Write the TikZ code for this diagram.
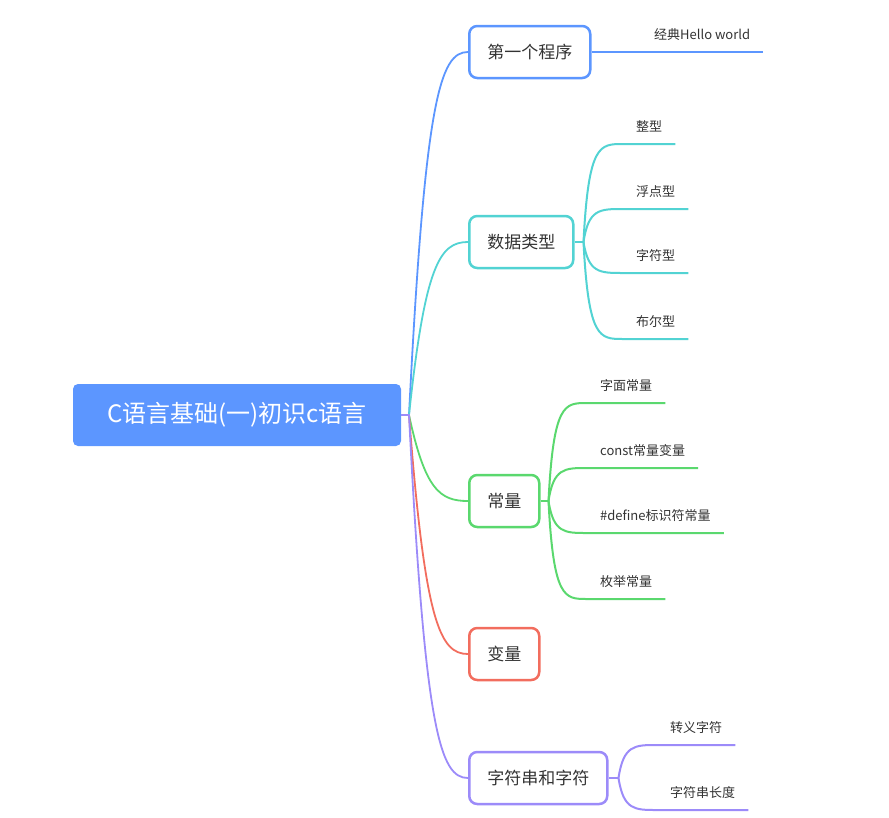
\documentclass[tikz,border=0pt]{standalone}
\usepackage{fontspec}
\setmainfont{Noto Sans CJK SC}
\usepackage{tikz}
\usetikzlibrary{calc}
\definecolor{mmblue}{HTML}{5C96FF}
\definecolor{mmteal}{HTML}{52D3D3}
\definecolor{mmgreen}{HTML}{5AD86E}
\definecolor{mmred}{HTML}{F26D5E}
\definecolor{mmpurple}{HTML}{9C8BF9}
\definecolor{mmtext}{HTML}{333333}

\begin{document}
\begin{tikzpicture}[x=1pt, y=-1pt,
  topic/.style={rectangle, draw=#1, line width=2.5pt, rounded corners=8pt,
    fill=white, minimum height=52pt, inner xsep=18pt, anchor=west,
    text=mmtext, font=\fontsize{17}{20}\selectfont},
  leaf/.style={inner xsep=13pt, inner ysep=10pt, text height=10pt,
    text depth=2pt, anchor=south west, text=mmtext,
    font=\fontsize{13}{15}\selectfont},
  link/.style={draw=#1, line width=2pt},
]
  \useasboundingbox (0,0) rectangle (889,817);

  % Root
  \node[fill=mmblue, rounded corners=5pt, minimum width=328pt, minimum height=62pt,
    text=white, font=\fontsize{24}{27}\selectfont] (root) at (237,415) {C语言基础(一)初识c语言};
  \coordinate (rj) at (409,415);

  % Topics
  \node[topic=mmblue] (first) at (468,52) {第一个程序};
  \node[topic=mmteal] (types) at (468,242) {数据类型};
  \node[topic=mmgreen] (consts) at (468,501) {常量};
  \node[topic=mmred] (vars) at (468,654) {变量};
  \node[topic=mmpurple] (strs) at (468,778) {字符串和字符};

  % Leaves
  \node[leaf] (hello) at (641,52) {经典Hello world};
  \node[leaf] (tint) at (623,144) {整型};
  \node[leaf] (tfloat) at (623,209) {浮点型};
  \node[leaf] (tchar) at (623,273) {字符型};
  \node[leaf] (tbool) at (623,339) {布尔型};
  \node[leaf] (clit) at (587,403) {字面常量};
  \node[leaf] (cconst) at (587,468) {const常量变量};
  \node[leaf] (cdef) at (587,533) {\#define标识符常量};
  \node[leaf] (cenum) at (587,599) {枚举常量};
  \node[leaf] (sesc) at (657,745) {转义字符};
  \node[leaf] (slen) at (657,810) {字符串长度};

  % Root branches
  \foreach \t/\c in {first/mmblue, types/mmteal, consts/mmgreen, vars/mmred, strs/mmpurple}
    \draw[link=\c, line width=1.8pt] (root.east) -- (rj)
      .. controls ($(rj |- \t.west)!0.13!(rj) + (16,0)$) and ([xshift=31pt]rj |- \t.west) .. (\t.west);

  % Topic branches
  \draw[link=mmblue] (first.east) -- (hello.south east);

  \coordinate (tj) at ([xshift=9pt]types.east);
  \draw[link=mmteal] (types.east) -- (tj);
  \foreach \l in {tint, tfloat, tchar, tbool}
    \draw[link=mmteal] (tj)
      .. controls ([xshift=5pt]tj |- \l.south west) and ([xshift=16pt]tj |- \l.south west)
      .. (\l.south west) -- (\l.south east);

  \coordinate (cj) at ([xshift=8pt]consts.east);
  \draw[link=mmgreen] (consts.east) -- (cj);
  \foreach \l in {clit, cconst, cdef, cenum}
    \draw[link=mmgreen] (cj)
      .. controls ([xshift=5pt]cj |- \l.south west) and ([xshift=16pt]cj |- \l.south west)
      .. (\l.south west) -- (\l.south east);

  \coordinate (sj) at ([xshift=10pt]strs.east);
  \draw[link=mmpurple] (strs.east) -- (sj);
  \foreach \l in {sesc, slen}
    \draw[link=mmpurple] (sj)
      .. controls ([xshift=5pt]sj |- \l.south west) and ([xshift=16pt]sj |- \l.south west)
      .. (\l.south west) -- (\l.south east);
\end{tikzpicture}
\end{document}
